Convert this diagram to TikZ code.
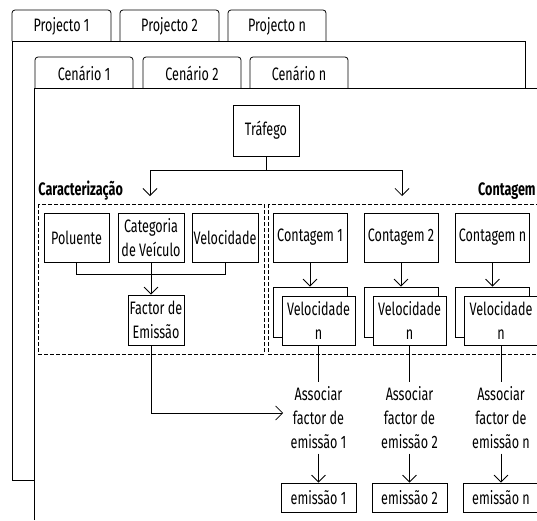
\documentclass[tikz,border=0pt]{standalone}
\usepackage{fontspec}
\setmainfont{Fira Sans}[FakeStretch=0.70]
\usetikzlibrary{arrows.meta}
\usetikzlibrary{calc}
\newcommand{\diagfont}{\fontsize{18}{24}\selectfont}
\newcommand{\tabshape}[4] % left x, right x, top y, bottom y
{
	\draw[rounded corners=3pt] (#1,#4) -- (#1,#3) -- (#2,#3) -- (#2,#4);
}
\newcommand{\contcol}[3] % id, centre x, label
{
	% counting and its speed sheets
	\node[box, minimum width=74pt] (ct#1) at (#2,237.5) {Contagem #3};
	\node[box, minimum width=74pt, minimum height=50pt] (vb#1) at (#2,312) {};
	\node[box, minimum width=73pt] (vf#1) at (#2+8.5,320.5) {Velocidade\\n};
	% association and result
	\node[txt] (as#1) at (#2+8.5,418) {Associar\\factor de\\emissão #3};
	\node[box, minimum width=75pt, minimum height=29pt] (em#1) at (#2+8.5,497.5) {emissão #3};
	\draw[arr] (ct#1) -- (vb#1);
	\draw (vf#1) -- (as#1);
	\draw[arr] (as#1) -- (em#1);
}
\tikzset{
	box/.style={draw, fill=white, minimum width=66pt, minimum height=49pt, inner sep=1pt, align=center},
	arr/.style={-{Straight Barb[length=7pt,width=14pt]}},
	grp/.style={dash pattern=on 4pt off 2pt},
	txt/.style={align=center, inner sep=4pt},
	lbl/.style={font=\diagfont\bfseries, inner sep=0pt},
}
\begin{document}
\begin{tikzpicture}[x=1pt, y=-1pt, font=\diagfont, line width=0.8pt]
	\useasboundingbox (0,0) rectangle (537,520);
	\clip (0,0) rectangle (537,520);
	% projects sheet
	\draw (12,480) -- (12,41) -- (525,41) -- (525,88);
	\draw (12,480) -- (34,480);
	\tabshape{12}{111}{10}{41};
	\tabshape{120}{219}{10}{41};
	\tabshape{228}{326}{10}{41};
	\node (pr1) at (61.5,26) {Projecto 1};
	\node (pr2) at (169.5,26) {Projecto 2};
	\node (prn) at (277,26) {Projecto n};
	
	% scenarios sheet
	\draw (34,520) -- (34,88) -- (540,88);
	\tabshape{35}{133}{57}{88};
	\tabshape{143}{241}{57}{88};
	\tabshape{250}{348}{57}{88};
	\node (sc1) at (84,73) {Cenário 1};
	\node (sc2) at (192,73) {Cenário 2};
	\node (scn) at (299,73) {Cenário n};
	
	% traffic
	\node[box, minimum height=51pt] (traf) at (266,130.5) {Tráfego};
	\coordinate (junc) at (traf.south |- 0,170);
	\coordinate (carIn) at (150,196);
	\coordinate (conIn) at (402,196);
	\draw (traf.south) -- (junc);
	\draw[arr] (junc) -| (carIn);
	\draw[arr] (junc) -| (conIn);
	
	% groups
	\node[lbl, anchor=base west] (carT) at (38,195) {Caracterização};
	\node[lbl, anchor=base east] (conT) at (536,195) {Contagem};
	\draw[grp] (38,204) rectangle (264,354);
	\draw[grp] (268,204) rectangle (560,354);
	
	% characterisation
	\node[box, minimum width=65pt] (pol) at (76.5,237.5) {Poluente};
	\node[box] (cat) at (151,237.5) {Categoria\\de Veículo};
	\node[box] (vel) at (225,237.5) {Velocidade};
	\node[box, minimum width=56pt, minimum height=50pt] (fe) at (156,320) {Factor de\\Emissão};
	\draw (pol.south) -- ++(0,12) -| (vel.south);
	\draw[arr] (cat.south) -- (fe.north -| cat.south);
	
	% counting
	\contcol{1}{310}{1};
	\contcol{2}{401}{2};
	\contcol{n}{492.5}{n};
	
	\draw[arr, shorten >=3pt] (fe.south -| cat.south) |- ($(as1.west)+(0,-5)$);
	
\end{tikzpicture}
\end{document}
